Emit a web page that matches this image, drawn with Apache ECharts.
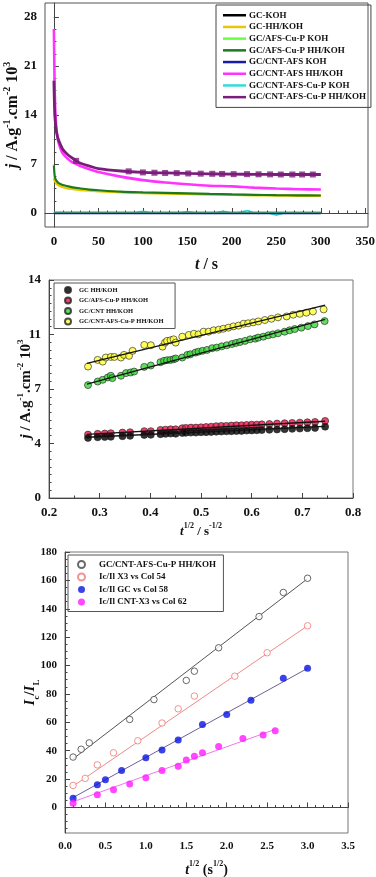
<!DOCTYPE html>
<html>
<head>
<meta charset="utf-8">
<script src="https://cdn.jsdelivr.net/npm/echarts@6/dist/echarts.min.js"></script>
<style>
  html, body { margin: 0; padding: 0; background: #fff; }
  #main { width: 376px; height: 877px; }
</style>
</head>
<body>
<div id="main"></div>
<script>
// ---------- panel 1 : j vs t (chronoamperometry) ----------
const tDecay = [0, 0.5, 1, 2, 3, 5, 8, 10, 15, 20, 25, 30, 40, 50, 75, 100, 125, 150, 175, 200, 225, 250, 275, 300];
const jGcHh = [5.0, 4.8, 4.6, 4.4, 4.2, 4.0, 3.8, 3.7, 3.55, 3.45, 3.35, 3.3, 3.2, 3.1, 2.95, 2.85, 2.78, 2.7, 2.65, 2.6, 2.55, 2.5, 2.47, 2.45];
const jAfsHh = [6.8, 5.8, 5.2, 4.8, 4.6, 4.3, 4.1, 4.0, 3.85, 3.7, 3.6, 3.5, 3.35, 3.25, 3.05, 2.95, 2.88, 2.8, 2.72, 2.65, 2.6, 2.55, 2.52, 2.5];
const jCntHh = [26.3, 21, 17, 13.5, 11.8, 10.2, 9.0, 8.5, 7.8, 7.3, 7.0, 6.7, 6.25, 5.85, 5.2, 4.7, 4.35, 4.1, 3.9, 3.8, 3.62, 3.5, 3.4, 3.35];
const jCntCuHh = [18.9, 16, 14, 12.5, 11.5, 10.5, 9.6, 9.1, 8.4, 7.9, 7.45, 7.1, 6.7, 6.35, 6.0, 5.8, 5.72, 5.65, 5.6, 5.55, 5.53, 5.5, 5.5, 5.5];
const tFlat = [0, 300];
const jGcKoh = [0.02, 0.02];
const jAfsKoh = [0.05, 0.0];
const jCntKoh = [-0.05, -0.05];
const tCyan = [0, 90, 100, 110, 140, 150, 160, 180, 190, 200, 210, 217, 225, 240, 250, 260, 300];
const jCyan = [0.05, 0.0, 0.25, 0.0, 0.0, 0.2, 0.0, 0.0, 0.25, 0.0, 0.1, 0.35, 0.0, 0.0, -0.3, 0.0, 0.0];
const tPurpleMark = [25, 84, 100, 113, 125, 138, 151, 165, 178, 189, 202, 217, 230, 243, 255, 268, 279, 291];
const jPurpleMark = [7.45, 5.95, 5.8, 5.75, 5.72, 5.7, 5.65, 5.62, 5.6, 5.58, 5.55, 5.55, 5.53, 5.52, 5.5, 5.5, 5.5, 5.5];
const p1xTicks = [0, 50, 100, 150, 200, 250, 300, 350];
const p1yTicks = [0, 7, 14, 21, 28];

// ---------- panel 2 : j vs t^1/2 ----------
const xLow = [0.277, 0.296, 0.31, 0.322, 0.345, 0.36, 0.388, 0.401, 0.42, 0.43, 0.44, 0.45, 0.463, 0.47, 0.48, 0.49, 0.5, 0.51, 0.52, 0.53, 0.54, 0.55, 0.56, 0.57, 0.58, 0.59, 0.6, 0.61, 0.62, 0.635, 0.65, 0.665, 0.68, 0.695, 0.71, 0.725, 0.745];
const jRed = [4.07, 4.12, 4.14, 4.16, 4.20, 4.22, 4.29, 4.29, 4.37, 4.39, 4.41, 4.41, 4.48, 4.50, 4.52, 4.52, 4.54, 4.56, 4.58, 4.61, 4.63, 4.63, 4.65, 4.67, 4.67, 4.69, 4.71, 4.71, 4.73, 4.75, 4.78, 4.80, 4.82, 4.84, 4.86, 4.88, 4.95];
const jBlack = [3.86, 3.90, 3.92, 3.93, 3.97, 3.99, 4.05, 4.06, 4.10, 4.12, 4.14, 4.13, 4.18, 4.19, 4.20, 4.20, 4.22, 4.23, 4.24, 4.26, 4.27, 4.28, 4.29, 4.30, 4.31, 4.33, 4.34, 4.35, 4.36, 4.38, 4.40, 4.42, 4.44, 4.46, 4.48, 4.50, 4.58];
const xYel = [0.277, 0.296, 0.306, 0.312, 0.322, 0.329, 0.342, 0.348, 0.358, 0.365, 0.388, 0.401, 0.424, 0.429, 0.433, 0.440, 0.446, 0.450, 0.463, 0.476, 0.486, 0.495, 0.505, 0.515, 0.525, 0.535, 0.544, 0.554, 0.564, 0.574, 0.584, 0.593, 0.603, 0.613, 0.626, 0.639, 0.652, 0.669, 0.682, 0.695, 0.708, 0.721, 0.742];
const jYel = [8.44, 8.87, 8.76, 9.02, 9.06, 9.06, 9.02, 9.19, 9.13, 9.45, 9.83, 9.81, 9.72, 9.98, 10.09, 10.13, 10.19, 9.98, 10.36, 10.47, 10.55, 10.51, 10.68, 10.68, 10.77, 10.81, 10.87, 10.94, 11.02, 11.07, 11.19, 11.22, 11.28, 11.34, 11.43, 11.51, 11.60, 11.66, 11.77, 11.83, 11.90, 11.98, 12.11];
const xGrn = [0.277, 0.296, 0.306, 0.316, 0.322, 0.325, 0.342, 0.352, 0.361, 0.368, 0.388, 0.401, 0.420, 0.427, 0.433, 0.440, 0.446, 0.450, 0.463, 0.473, 0.479, 0.489, 0.495, 0.503, 0.512, 0.522, 0.531, 0.541, 0.551, 0.561, 0.569, 0.577, 0.587, 0.597, 0.607, 0.613, 0.623, 0.633, 0.642, 0.652, 0.665, 0.675, 0.685, 0.698, 0.711, 0.724, 0.744];
const jGrn = [7.25, 7.48, 7.59, 7.74, 7.85, 7.70, 7.85, 8.02, 8.06, 8.12, 8.42, 8.51, 8.72, 8.81, 8.85, 8.87, 8.91, 8.96, 9.02, 9.19, 9.23, 9.34, 9.40, 9.45, 9.51, 9.62, 9.66, 9.74, 9.81, 9.89, 9.96, 10.02, 10.09, 10.19, 10.23, 10.30, 10.36, 10.45, 10.51, 10.58, 10.68, 10.77, 10.85, 10.94, 11.04, 11.15, 11.36];
const xFit2 = [0.275, 0.745];
const fitYel = [8.64, 12.39];
const fitGrn = [7.31, 11.47];
const fitRed = [4.08, 4.93];
const fitBlack = [3.9, 4.6];
const p2yTicks = [0, 3.5, 7, 10.5, 14];

// ---------- panel 3 : Ic/IL vs t^1/2 ----------
const xOpenBlack = [0.1, 0.2, 0.3, 0.8, 1.1, 1.5, 1.6, 1.9, 2.4, 2.7, 3.0];
const yOpenBlack = [35.5, 41, 45.5, 62, 76, 89.5, 96, 112.5, 134.5, 151.5, 161.5];
const xOpenPink = [0.1, 0.25, 0.4, 0.6, 0.9, 1.2, 1.4, 1.6, 2.1, 2.5, 3.0];
const yOpenPink = [15.5, 20.5, 30, 38.5, 47, 59.5, 69.5, 78.5, 92.5, 109, 128];
const xBlue = [0.1, 0.4, 0.5, 0.7, 1.0, 1.2, 1.4, 1.7, 2.0, 2.3, 2.7, 3.0];
const yBlue = [6.5, 16, 19.5, 26, 35, 40.5, 47.5, 58.5, 65.5, 75.5, 91, 98];
const xMag = [0.1, 0.4, 0.6, 0.8, 1.0, 1.2, 1.4, 1.5, 1.6, 1.7, 1.9, 2.2, 2.45, 2.6];
const yMag = [3, 9, 12.5, 16.5, 21, 26, 29, 33.5, 36, 38.5, 43, 48.5, 51, 54];
const fitBlack3 = [[0.1, 34.2], [3.0, 161.2]];
const fitPink3 = [[0.1, 15], [3.0, 128]];
const fitBlue3 = [[0.1, 7], [3.0, 98]];
const fitMag3 = [[0.1, 4], [2.6, 55]];
const p3yTicks = [0, 20, 40, 60, 80, 100, 120, 140, 160, 180];
const p3xTicks = [0, 0.5, 1, 1.5, 2, 2.5, 3, 3.5];

// legend names (panels share some labels, so the lower ones carry trailing spaces)
const names1 = ['GC-KOH', 'GC-HH/KOH', 'GC/AFS-Cu-P KOH', 'GC/AFS-Cu-P HH/KOH', 'GC/CNT-AFS KOH',
  'GC/CNT-AFS HH/KOH', 'GC/CNT-AFS-Cu-P KOH', 'GC/CNT-AFS-Cu-P HH/KOH'];
const names2 = ['GC HH/KOH', 'GC/AFS-Cu-P HH/KOH ', 'GC/CNT HH/KOH', 'GC/CNT-AFS-Cu-P HH/KOH '];
const names3 = ['GC/CNT-AFS-Cu-P HH/KOH  ', 'Ic/Il X3 vs Col 54', 'Ic/Il GC vs Col 58', 'Ic/Il CNT-X3 vs Col 62'];

const FONT = 'Liberation Serif';
const pairs = (xs, ys) => xs.map((x, i) => [x, ys[i]]);
const steps = (from, to, step) => {
  const out = [];
  for (let v = from; v <= to + 1e-9; v += step) out.push(+v.toFixed(4));
  return out;
};

// rich text for axis titles
const richName = (size) => ({
  fontFamily: FONT, fontWeight: 'bold', fontSize: size, color: '#111',
  rich: {
    n: { fontFamily: FONT, fontWeight: 'bold', fontSize: size, lineHeight: size + 6, color: '#111' },
    i: { fontFamily: FONT, fontWeight: 'bold', fontStyle: 'italic', fontSize: size, lineHeight: size + 6, color: '#111' },
    s: { fontFamily: FONT, fontWeight: 'bold', fontSize: Math.round(size * 0.6), verticalAlign: 'top', lineHeight: size * 0.6, color: '#111' },
    b: { fontFamily: FONT, fontWeight: 'bold', fontSize: Math.round(size * 0.6), verticalAlign: 'bottom', lineHeight: size * 0.6, color: '#111' },
  },
});

const labelStyle = (size) => ({ fontFamily: FONT, fontWeight: 'bold', fontSize: size, color: '#111' });

// main axis with labels and major ticks on custom values
function mainAxis(opts) {
  const { gridIndex, min, max, ticks, fmt, size, name, nameSize, nameGap, vertical, margin } = opts;
  return {
    type: 'value', gridIndex, min, max,
    position: vertical ? 'left' : 'bottom',
    axisLine: { show: true, lineStyle: { color: '#444', width: 1 } },
    axisTick: { show: true, inside: true, length: 5, customValues: ticks, lineStyle: { color: '#444' } },
    axisLabel: { customValues: ticks, formatter: fmt, margin: margin || 8, ...labelStyle(size) },
    splitLine: { show: false },
    name, nameLocation: 'middle', nameGap, nameRotate: vertical ? 90 : 0, nameMoveOverlap: false,
    nameTextStyle: richName(nameSize),
  };
}
// overlay axis that only draws short minor ticks
function minorAxis(gridIndex, min, max, ticks, vertical) {
  return {
    type: 'value', gridIndex, min, max,
    position: vertical ? 'left' : 'bottom',
    axisLine: { show: false },
    axisTick: { show: true, inside: true, length: 2.5, customValues: ticks, lineStyle: { color: '#444' } },
    axisLabel: { show: false },
    splitLine: { show: false },
  };
}

const gridBox = { show: true, borderColor: '#555', borderWidth: 1, backgroundColor: '#fff', containLabel: false, outerBoundsMode: 'none' };

const option = {
  animation: false,
  backgroundColor: '#fff',
  grid: [
    { left: 45, top: 3, width: 323, height: 224, ...gridBox },
    { left: 49, top: 280, width: 304, height: 218, ...gridBox, borderColor: '#777' },
    { left: 65, top: 552, width: 283, height: 281, ...gridBox, borderColor: '#777' },
  ],
  xAxis: [
    mainAxis({ gridIndex: 0, min: -10, max: 353, ticks: p1xTicks, fmt: (v) => String(v), size: 13,
      name: '{i|t}{n| / s}', nameSize: 16, nameGap: 27 }),
    mainAxis({ gridIndex: 1, min: 0.2, max: 0.8, ticks: [0.2, 0.3, 0.4, 0.5, 0.6, 0.7, 0.8], fmt: (v) => v.toFixed(1), size: 13,
      name: '{i|t}{s|1/2}{n| / s}{s|-1/2}', nameSize: 13, nameGap: 24 }),
    mainAxis({ gridIndex: 2, min: 0, max: 3.5, ticks: p3xTicks, fmt: (v) => v.toFixed(1), size: 11,
      name: '{i|t}{s|1/2}{n| (s}{s|1/2}{n|)}', nameSize: 14, nameGap: 27 }),
    minorAxis(0, -10, 353, steps(0, 350, 10), false),
    minorAxis(1, 0.2, 0.8, steps(0.2, 0.8, 0.05), false),
    minorAxis(2, 0, 3.5, steps(0, 3.5, 0.1), false),
  ],
  yAxis: [
    mainAxis({ gridIndex: 0, min: -2, max: 30, ticks: p1yTicks, fmt: (v) => String(v), size: 13, vertical: true,
      name: '{i|j}{n| / A.g}{s|-1}{n|.cm}{s|-2}{n| 10}{s|3}', nameSize: 16, nameGap: 21 }),
    mainAxis({ gridIndex: 1, min: 0, max: 14, ticks: p2yTicks, fmt: (v) => String(Math.round(v)), size: 13, vertical: true,
      name: '{i|j}{n| / A.g}{s|-1}{n|.cm}{s|-2}{n| 10}{s|3}', nameSize: 15, nameGap: 12 }),
    mainAxis({ gridIndex: 2, min: -18, max: 180, ticks: p3yTicks, fmt: (v) => String(v), size: 11, vertical: true,
      name: '{i|I}{b|c}{n|/}{i|I}{b|L}', nameSize: 15, nameGap: 24 }),
    minorAxis(0, -2, 30, steps(0, 28, 1.75), true),
    minorAxis(1, 0, 14, steps(0, 14, 0.5), true),
    minorAxis(2, -18, 180, steps(-15, 180, 5), true),
  ],
  legend: [
    {
      left: 216, top: 5, orient: 'vertical', selectedMode: false,
      borderColor: '#444', borderWidth: 1, padding: [5, 5, 5, 7], itemGap: 1.2,
      itemWidth: 23, itemHeight: 2.5, icon: 'rect',
      textStyle: { fontFamily: FONT, fontWeight: 'bold', fontSize: 9, lineHeight: 10.5, color: '#111', padding: [0, 0, 0, -2] },
      data: names1,
    },
    {
      left: 54, top: 283, orient: 'vertical', selectedMode: false,
      borderColor: '#555', borderWidth: 1, padding: [3, 10, 3, 10], itemGap: 2.5,
      itemWidth: 6, itemHeight: 6,
      textStyle: { fontFamily: FONT, fontWeight: 'bold', fontSize: 6.5, lineHeight: 7, color: '#111', padding: [0, 0, 0, 3] },
      data: names2,
    },
    {
      left: 68, top: 555, orient: 'vertical', selectedMode: false,
      borderColor: '#555', borderWidth: 1, padding: [5, 3, 5, 9], itemGap: 3.5,
      itemWidth: 7, itemHeight: 7,
      textStyle: { fontFamily: FONT, fontWeight: 'bold', fontSize: 9, lineHeight: 8, color: '#111', padding: [0, 0, 0, 9] },
      data: names3,
    },
  ],
  series: [],
};

// panel 1 lines
const p1 = (name, xs, ys, color, width, type) => ({
  name, type: 'line', xAxisIndex: 0, yAxisIndex: 0, data: pairs(xs, ys),
  showSymbol: false, symbol: 'none', smooth: 0.3, color,
  lineStyle: { color, width, type: type || 'solid' },
});
option.series.push(
  p1(names1[6], tCyan, jCyan, '#33dcdc', 1.6),
  p1(names1[0], tFlat, jGcKoh, '#000', 2),
  p1(names1[2], tFlat, jAfsKoh, '#66ff44', 2),
  p1(names1[4], tFlat, jCntKoh, '#1a1aa8', 1.6),
  p1(names1[1], tDecay, jGcHh, '#e8c800', 2.5),
  p1(names1[3], tDecay, jAfsHh, '#1e7a1e', 2.2),
  p1(names1[5], tDecay, jCntHh, '#ff33ff', 2.6),
  p1(names1[7], tDecay, jCntCuHh, '#7b1d7b', 2.8),
  {
    name: 'purple marks', type: 'scatter', xAxisIndex: 0, yAxisIndex: 0,
    data: pairs(tPurpleMark, jPurpleMark), symbol: 'rect', symbolSize: [6, 6],
    itemStyle: { color: '#7b1d7b' }, z: 3,
  },
);

// panel 2 scatter + fits
const p2 = (name, xs, ys, color) => ({
  name, type: 'scatter', xAxisIndex: 1, yAxisIndex: 1, data: pairs(xs, ys),
  symbol: 'circle', symbolSize: 7,
  itemStyle: { color, borderColor: '#222', borderWidth: 0.8 },
});
const fit2 = (ys) => ({
  type: 'line', xAxisIndex: 1, yAxisIndex: 1, data: pairs(xFit2, ys),
  showSymbol: false, symbol: 'none', lineStyle: { color: '#111', width: 1.3 }, z: 4,
});
option.series.push(
  p2(names2[1], xLow, jRed, '#ee1148'),
  p2(names2[0], xLow, jBlack, '#000'),
  p2(names2[2], xGrn, jGrn, '#3ad63a'),
  p2(names2[3], xYel, jYel, '#ffff33'),
  fit2(fitRed), fit2(fitBlack), fit2(fitGrn), fit2(fitYel),
);

// panel 3 scatter + fits
const p3 = (name, xs, ys, color, open) => ({
  name, type: 'scatter', xAxisIndex: 2, yAxisIndex: 2, data: pairs(xs, ys),
  symbol: 'circle', symbolSize: open ? 6.5 : 7, z: 5,
  itemStyle: open ? { color: '#fff', borderColor: color, borderWidth: 1 } : { color },
});
const fit3 = (pts, color) => ({
  type: 'line', xAxisIndex: 2, yAxisIndex: 2, data: pts,
  showSymbol: false, symbol: 'none', lineStyle: { color, width: 1 }, z: 3,
});
option.series.push(
  fit3(fitBlack3, '#555'), fit3(fitPink3, '#f08a8a'), fit3(fitBlue3, '#6f5f98'), fit3(fitMag3, '#ea7aea'),
  p3(names3[0], xOpenBlack, yOpenBlack, '#444', true),
  p3(names3[1], xOpenPink, yOpenPink, '#f07878', true),
  p3(names3[2], xBlue, yBlue, '#0a14e0', false),
  p3(names3[3], xMag, yMag, '#ff1aff', false),
);

const chart = echarts.init(document.getElementById('main'));
chart.setOption(option);
</script>
</body>
</html>
